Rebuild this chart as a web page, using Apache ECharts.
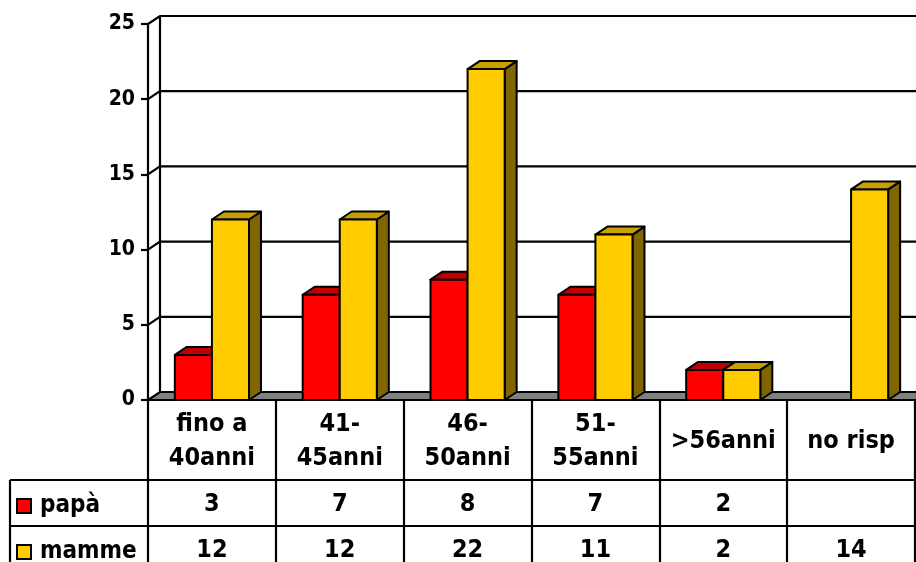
<!DOCTYPE html>
<html><head><meta charset="utf-8">
<script src="https://cdn.jsdelivr.net/npm/echarts@6/dist/echarts.min.js"></script>
<style>html,body{margin:0;padding:0;background:#fff}#c{width:916px;height:562px}</style>
</head><body><div id="c"></div>
<script>
const categories = ['fino a\n40anni', '41-\n45anni', '46-\n50anni', '51-\n55anni', '>56anni', 'no risp'];
const seriesNames = ['papà', 'mamme'];
const papa = [3, 7, 8, 7, 2, null];
const mamme = [12, 12, 22, 11, 2, 14];
const yTicks = [0, 5, 10, 15, 20, 25];

const FONT = '"DejaVu Sans Condensed", "DejaVu Sans", sans-serif';
const DX = 12, DY = 8;
const colors = [
  { front: '#FF0000', top: '#C00000', side: '#800000' },
  { front: '#FFCC00', top: '#C9A000', side: '#806600' }
];

function barItem(s) {
  return function (params, api) {
    const i = api.value(0), v = api.value(1);
    const base = api.coord([i, 0]);
    const top = api.coord([i, v]);
    const bw = api.size([1, 0])[0] * 0.29;
    const x0 = s === 0 ? base[0] - bw : base[0];
    const x1 = x0 + bw;
    const yb = base[1], yt = top[1];
    const c = colors[s];
    const ls = { stroke: '#000', lineWidth: 2, lineJoin: 'round' };
    return {
      type: 'group',
      children: [
        { type: 'polygon', shape: { points: [[x1, yt], [x1 + DX, yt - DY], [x1 + DX, yb - DY], [x1, yb]] }, style: Object.assign({ fill: c.side }, ls) },
        { type: 'polygon', shape: { points: [[x0, yt], [x1, yt], [x1 + DX, yt - DY], [x0 + DX, yt - DY]] }, style: Object.assign({ fill: c.top }, ls) },
        { type: 'rect', shape: { x: x0, y: yt, width: bw, height: yb - yt }, style: Object.assign({ fill: c.front }, ls) }
      ]
    };
  };
}

function wallItem(params, api) {
  const t = api.value(0);
  const cs = params.coordSys;
  const y = api.coord([0, t])[1];
  const xl = cs.x, xr = cs.x + cs.width;
  const children = [];
  if (t === 0) {
    children.push({ type: 'polygon', shape: { points: [[xl, y], [xl + DX, y - DY], [xr + 2, y - DY], [xr + 2, y]] }, style: { fill: '#808080', stroke: '#000', lineWidth: 2.2 } });
  } else {
    children.push({ type: 'polyline', shape: { points: [[xl, y], [xl + DX, y - DY], [xr + 2, y - DY]] }, style: { fill: null, stroke: '#000', lineWidth: 2.2 } });
  }
  if (t === yTicks[yTicks.length - 1]) {
    const y0 = api.coord([0, 0])[1];
    children.push({ type: 'line', shape: { x1: xl + DX, y1: y - DY, x2: xl + DX, y2: y0 - DY }, style: { stroke: '#000', lineWidth: 2.2 } });
  }
  return { type: 'group', children: children };
}

function tableItem(rowY) {
  return function (params, api) {
    const i = api.value(0), v = api.value(1);
    const x = api.coord([i, 0])[0];
    return { type: 'text', x: x, y: rowY, style: { text: String(v), textAlign: 'center', textVerticalAlign: 'middle', font: 'bold 25px ' + FONT, fill: '#000' } };
  };
}

const papaData = papa.map((v, i) => [i, v]).filter(d => d[1] !== null);
const mammeData = mamme.map((v, i) => [i, v]);

const chart = echarts.init(document.getElementById('c'), null, { renderer: 'canvas' });
chart.setOption({
  animation: false,
  backgroundColor: '#fff',
  grid: { left: 148, right: 1, top: 24, bottom: 162 },
  xAxis: {
    type: 'category', data: categories,
    axisLine: { show: true, lineStyle: { color: '#000', width: 2.2 } },
    axisTick: { show: true, length: 162, interval: 0, lineStyle: { color: '#000', width: 2.2 } },
    axisLabel: { interval: 0, margin: 41, verticalAlign: 'middle', lineHeight: 34, color: '#000', fontWeight: 'bold', fontSize: 25, fontFamily: FONT }
  },
  yAxis: {
    type: 'value', min: 0, max: 25, interval: 5,
    axisLine: { show: true, lineStyle: { color: '#000', width: 2.2 } },
    axisTick: { show: true, length: 7, lineStyle: { color: '#000', width: 2.2 } },
    axisLabel: { margin: 13, color: '#000', fontWeight: 'bold', fontSize: 21, fontFamily: FONT },
    splitLine: { show: false }
  },
  series: [
    { type: 'custom', name: 'walls', data: yTicks.map(t => [t]), renderItem: wallItem, clip: false, z: 1, silent: true },
    { type: 'custom', name: seriesNames[0], data: papaData, renderItem: barItem(0), clip: false, z: 2 },
    { type: 'custom', name: seriesNames[1], data: mammeData, renderItem: barItem(1), clip: false, z: 3 },
    { type: 'custom', name: 'tab-papa', data: papaData, renderItem: tableItem(504), clip: false, z: 4 },
    { type: 'custom', name: 'tab-mamme', data: mammeData, renderItem: tableItem(550), clip: false, z: 4 }
  ],
  graphic: [
    { type: 'line', shape: { x1: 10, y1: 480, x2: 916, y2: 480 }, style: { stroke: '#000', lineWidth: 2.2 } },
    { type: 'line', shape: { x1: 10, y1: 526, x2: 916, y2: 526 }, style: { stroke: '#000', lineWidth: 2.2 } },
    { type: 'line', shape: { x1: 10, y1: 480, x2: 10, y2: 562 }, style: { stroke: '#000', lineWidth: 2.2 } },
    { type: 'rect', shape: { x: 17, y: 499, width: 14, height: 14 }, style: { fill: colors[0].front, stroke: '#000', lineWidth: 2 } },
    { type: 'text', x: 40, y: 506, style: { text: seriesNames[0], font: 'bold 24px ' + FONT, textVerticalAlign: 'middle', fill: '#000' } },
    { type: 'rect', shape: { x: 17, y: 545, width: 14, height: 14 }, style: { fill: colors[1].front, stroke: '#000', lineWidth: 2 } },
    { type: 'text', x: 40, y: 552, style: { text: seriesNames[1], font: 'bold 24px ' + FONT, textVerticalAlign: 'middle', fill: '#000' } }
  ]
});
</script></body></html>
